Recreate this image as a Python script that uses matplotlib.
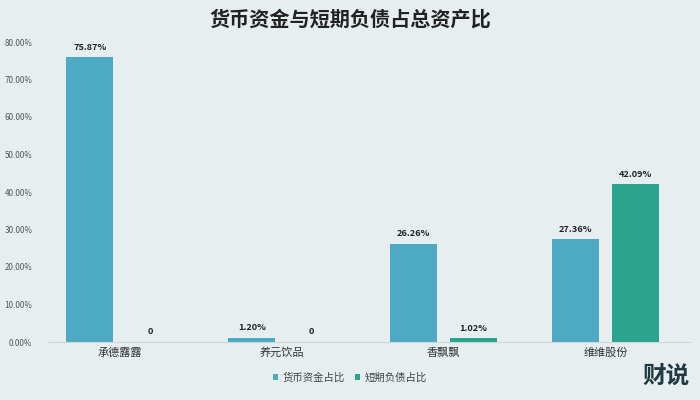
import matplotlib
matplotlib.use("Agg")
import matplotlib.pyplot as plt
import numpy as np

plt.rcParams['font.family'] = ['Noto Sans CJK SC', 'DejaVu Sans']

categories = ['承德露露', '养元饮品', '香飘飘', '维维股份']
cash_ratio = [75.87, 1.20, 26.26, 27.36]
short_debt_ratio = [0.0, 0.0, 1.02, 42.09]
series_names = ['货币资金占比', '短期负债占比']
yticks = [0, 10, 20, 30, 40, 50, 60, 70, 80]

bg = '#e7eef0'
c1 = '#4eaac4'
c2 = '#2aa48f'

fig = plt.figure(figsize=(7, 4), dpi=100, facecolor=bg)
ax = fig.add_axes([0.07, 0.145, 0.915, 0.75], facecolor=bg)

x = np.arange(len(categories))
w = 0.29
off = 0.185
b1 = ax.bar(x - off, cash_ratio, w, color=c1, label=series_names[0])
b2 = ax.bar(x + off, short_debt_ratio, w, color=c2, label=series_names[1])

def fmt(v):
    return '0' if v == 0 else f'{v:.2f}%'

for bars, vals in ((b1, cash_ratio), (b2, short_debt_ratio)):
    for b, v in zip(bars, vals):
        ax.text(b.get_x() + b.get_width() / 2, v + 1.5, fmt(v), ha='center', va='bottom',
                fontsize=6.6, color='#222222', fontweight='bold')

ax.set_xlim(-0.438, 3.519)
ax.set_ylim(0, 80)
ax.set_yticks(yticks)
ax.set_yticklabels([f'{t:.2f}%' for t in yticks], fontsize=5.8, color='#555555')
ax.set_xticks(x)
ax.set_xticklabels(categories, fontsize=8, color='#333333')
ax.tick_params(axis='x', length=0, pad=4)
ax.tick_params(axis='y', length=0, pad=12)
for s in ['top', 'right', 'left']:
    ax.spines[s].set_visible(False)
ax.spines['bottom'].set_color('#cfd6d8')
ax.spines['bottom'].set_linewidth(0.8)

fig.text(0.5, 0.952, '货币资金与短期负债占总资产比', ha='center', va='center',
         fontsize=14.5, fontweight='bold', color='#222222')

leg = fig.legend(handles=[b1, b2], labels=series_names, loc='center', bbox_to_anchor=(0.5, 0.055),
                 ncol=2, frameon=False, fontsize=7.5, handlelength=0.5, handleheight=0.5,
                 handletextpad=0.4, columnspacing=1.0)
for t in leg.get_texts():
    t.set_color('#444444')

fig.text(0.985, 0.03, '财说', ha='right', va='bottom', fontsize=17, fontweight='bold', color='#1f3a40')

fig.savefig('out.png', dpi=100, facecolor=bg)
